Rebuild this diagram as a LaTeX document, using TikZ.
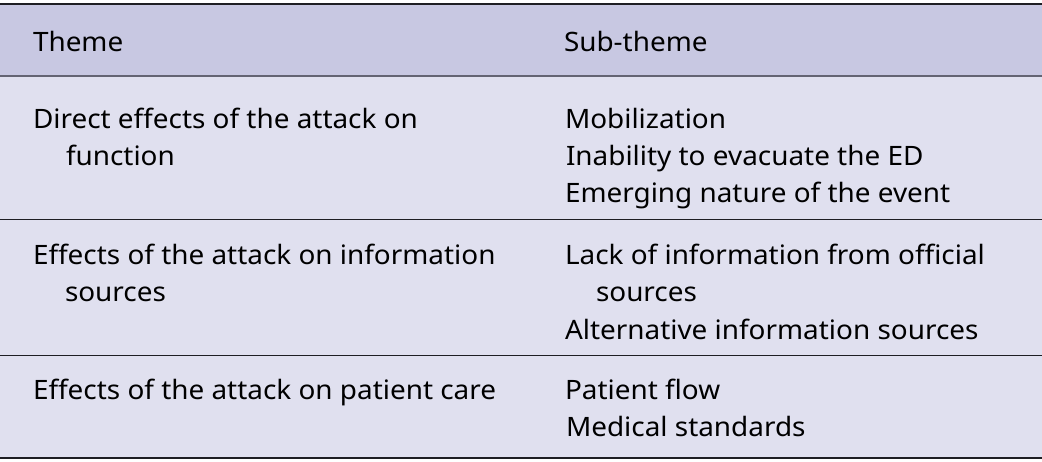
\documentclass[tikz,border=0pt]{standalone}
\usepackage{fontspec}
\setmainfont[FakeStretch=1.045]{Noto Sans}
\definecolor{headfill}{RGB}{200,200,226}
\definecolor{bodyfill}{RGB}{224,224,239}
\definecolor{rulegray}{RGB}{100,100,115}
\definecolor{ruledark}{RGB}{30,30,35}
\begin{document}
\begin{tikzpicture}[x=1pt,y=-1pt,
  cell/.style={anchor=base west,inner sep=0pt,outer sep=0pt,font=\fontsize{26.7}{30}\selectfont,text=black},
  toprule/.style={draw=ruledark,line width=2pt},
  midrule/.style={draw=rulegray,line width=2pt},
  rowrule/.style={draw=ruledark,line width=1.5pt}]
\useasboundingbox (0,0) rectangle (1042,461);
% fills
\fill[headfill] (0,4) rectangle (1042,75);
\fill[bodyfill] (0,76) rectangle (1042,457);
% rules
\draw[toprule] (0,3.5) -- (1042,3.5);
\draw[midrule] (0,75.5) -- (1042,75.5);
\draw[rowrule] (0,219.5) -- (1042,219.5);
\draw[rowrule] (0,355.5) -- (1042,355.5);
\draw[toprule] (0,457.5) -- (1042,457.5);
% header
\node[cell] (h1) at (33,51.5) {Theme};
\node[cell] (h2) at (564,51.5) {Sub-theme};
% row 1
\node[cell] (t1a) at (33,128.3) {Direct effects of the attack on};
\node[cell] (t1b) at (66,165.7) {function};
\node[cell] (s1a) at (565,128.3) {Mobilization};
\node[cell] (s1b) at (566,165.7) {Inability to evacuate the ED};
\node[cell] (s1c) at (565,202.5) {Emerging nature of the event};
% row 2
\node[cell] (t2a) at (33,264) {Effects of the attack on information};
\node[cell] (t2b) at (65,301.7) {sources};
\node[cell] (s2a) at (565,264) {Lack of information from official};
\node[cell] (s2b) at (596,301.7) {sources};
\node[cell] (s2c) at (565,339) {Alternative information sources};
% row 3
\node[cell] (t3a) at (33,399.5) {Effects of the attack on patient care};
\node[cell] (s3a) at (565,399.5) {Patient flow};
\node[cell] (s3b) at (566,436.5) {Medical standards};
\end{tikzpicture}
\end{document}
